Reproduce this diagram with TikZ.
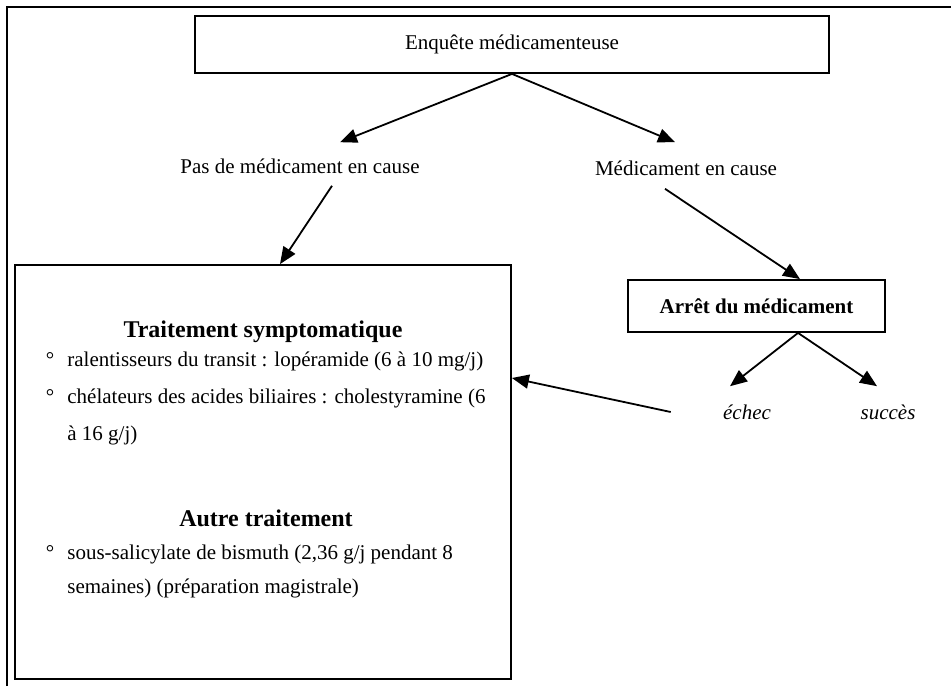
\documentclass[tikz,border=0pt]{standalone}
\usepackage{fontspec}
\setmainfont{Liberation Serif}
\usetikzlibrary{positioning,arrows.meta}

\tikzset{
  boite/.style={draw, line width=0.9pt, inner sep=0pt},
  fleche/.style={line width=0.9pt, -{Triangle[length=8.5pt,width=7pt]}},
  texte/.style={font=\fontsize{10.5}{12.6}\selectfont, inner sep=0pt},
  titre/.style={font=\fontsize{12}{14.4}\selectfont\bfseries, inner sep=0pt},
}

\begin{document}
\begin{tikzpicture}[x=0.5pt, y=-0.5pt]
    \useasboundingbox (0,0) rectangle (951,686);
    % cadre ouvert
    \draw[line width=1.1pt] (7,686) -- (7,7) -- (951,7);

    % enquete et deux branches
    \node[boite, texte, minimum width=317pt, minimum height=28.5pt] (enquete) at (512,44.5) {Enquête médicamenteuse};
    \node[texte] (pasmed) at (300,166) {Pas de médicament en cause};
    \node[texte] (med) at (686,168) {Médicament en cause};
    \draw[fleche] (enquete.south) -- ([shift={(40,-16)}]pasmed.north);
    \draw[fleche] (enquete.south) -- ([shift={(-11,-18)}]med.north);

    % traitement
    \node[boite, minimum width=248pt, minimum height=207pt] (traitement) at (263,472) {};
    \draw[fleche] ([shift={(32,12)}]pasmed.south) -- ([xshift=8.5pt]traitement.north);
    \node[titre] (titresympt) at (263,332) {Traitement symptomatique};
    \node[texte, anchor=base west] (ralent) at (67,366) {ralentisseurs du transit : lopéramide (6 à 10 mg/j)};
    \node[texte, anchor=base] (puceralent) at (50,366) {°};
    \node[texte, anchor=base west] (chelat) at (67,403) {chélateurs des acides biliaires : cholestyramine (6};
    \node[texte, anchor=base] (pucechelat) at (50,403) {°};
    \node[texte, anchor=base west] (chelatsuite) at (67,440) {à 16 g/j)};
    \node[titre] (titreautre) at (266,518) {Autre traitement};
    \node[texte, anchor=base west] (bismuth) at (67,559) {sous-salicylate de bismuth (2,36 g/j pendant 8};
    \node[texte, anchor=base] (pucebismuth) at (50,559) {°};
    \node[texte, anchor=base west] (bismuthsuite) at (67,593) {semaines) (préparation magistrale)};

    % arret du medicament
    \node[boite, texte, font=\fontsize{10.5}{12.6}\selectfont\bfseries, minimum width=128.5pt, minimum height=26pt] (arret) at (756.5,306) {Arrêt du médicament};
    \draw[fleche] ([shift={(-21,13)}]med.south) -- ([xshift=21.75pt]arret.north);
    \node[texte, font=\fontsize{10.5}{12.6}\selectfont\itshape] (echec) at (747,412) {échec};
    \node[texte, font=\fontsize{10.5}{12.6}\selectfont\itshape] (succes) at (888,412) {succès};
    \draw[fleche] ([xshift=20.75pt]arret.south) -- ([shift={(-17,-18)}]echec.north);
    \draw[fleche] ([xshift=20.75pt]arret.south) -- ([shift={(-11,-18)}]succes.north);
    \draw[fleche] ([shift={(-52,0)}]echec.west) -- ([shift={(0,-94)}]traitement.east);
\end{tikzpicture}
\end{document}
